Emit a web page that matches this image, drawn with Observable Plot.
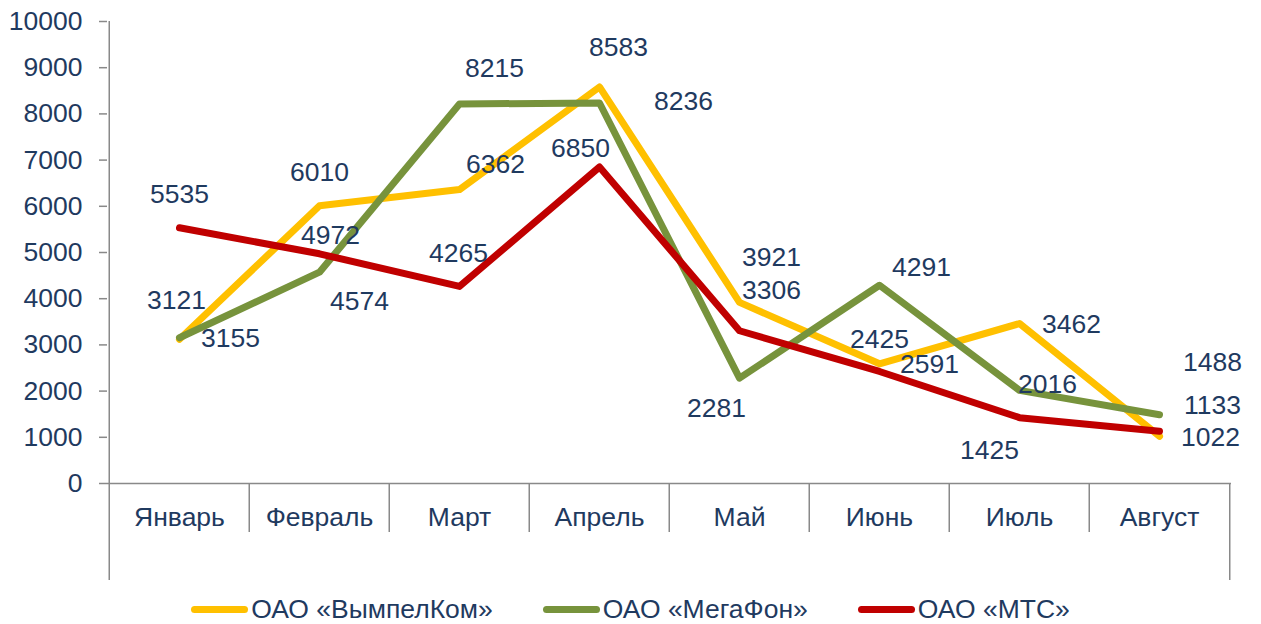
<!DOCTYPE html>
<html>
<head>
<meta charset="utf-8">
<script src="https://cdn.jsdelivr.net/npm/d3@7"></script>
<script src="https://cdn.jsdelivr.net/npm/@observablehq/plot@0.6"></script>
<style>
  html, body { margin: 0; padding: 0; background: #fff; }
  body { width: 1261px; height: 624px; overflow: hidden; font-family: "Liberation Sans", Arial, sans-serif; }
  #legend { display: flex; justify-content: center; align-items: center; height: 42px; font-size: 26.5px; color: #1f3a5f; }
  .item { display: flex; align-items: center; margin: 0 25px; }
  .sw { width: 57px; height: 7px; border-radius: 4px; margin-right: 3px; }
</style>
</head>
<body>
<div id="chart"></div>
<div id="legend"></div>
<script>
// ---- data ----
const months = ["Январь", "Февраль", "Март", "Апрель", "Май", "Июнь", "Июль", "Август"];
const seriesNames = ["ОАО «ВымпелКом»", "ОАО «МегаФон»", "ОАО «МТС»"];
const beeline = [3121, 6010, 6362, 8583, 3921, 2591, 3462, 1022];
const megafon = [3155, 4574, 8215, 8236, 2281, 4291, 2016, 1488];
const mts     = [5535, 4972, 4265, 6850, 3306, 2425, 1425, 1133];
const yTicks = [0, 1000, 2000, 3000, 4000, 5000, 6000, 7000, 8000, 9000, 10000];

// ---- label offsets (px), kept apart from the values ----
const beelineDx = [-3, 0, 36, 19, 32, 50, 52, 51];
const beelineDy = [-39, -33, -25, -39, -45, 1, 1, 1];
const megafonDx = [51, 40, 35, 84, -23, 42, 28, 53];
const megafonDy = [1, 29, -35, -1, 30, -18, -6, -52];
const mtsDx = [0, 11, -1, -19, 32, 0, -30, 53];
const mtsDy = [-33, -18, -33, -19, -40, -32, 33, -26];

const colors = ["#FFC000", "#77933C", "#C00000"];
const textColor = "#1f3a5f";
const axisColor = "#898989";

const W = 1261, H = 588;
const mL = 107, mR = 30, mT = 21, mB = 105;
const step = (W - mL - mR) / months.length;

const values = [beeline, megafon, mts];
const dxs = [beelineDx, megafonDx, mtsDx];
const dys = [beelineDy, megafonDy, mtsDy];

const rows = [];
values.forEach((vals, s) => vals.forEach((v, i) => rows.push({series: seriesNames[s], month: months[i], value: v, dx: dxs[s][i], dy: dys[s][i]})));

const labelMarks = rows.map(d => Plot.text([d], {
  x: "month", y: "value", text: d => String(d.value),
  dx: d.dx, dy: d.dy, fill: textColor, fontSize: 26.5
}));

const innerBounds = months.slice(1);
const chart = Plot.plot({
  width: W, height: H,
  marginLeft: mL, marginRight: mR, marginTop: mT, marginBottom: mB,
  style: {fontFamily: '"Liberation Sans", Arial, sans-serif', fontSize: "26.5px", background: "#fff", overflow: "visible"},
  x: {type: "point", domain: months, padding: 0.5, align: 0.5, axis: null},
  y: {domain: [0, 10000], axis: null},
  color: {domain: seriesNames, range: colors},
  marks: [
    // y axis ticks + labels
    Plot.axisY(yTicks, {tickSize: 8, tickPadding: 17, tickFormat: d => String(d), stroke: axisColor, fill: textColor, strokeWidth: 1.5, fontSize: 26.5, label: null}),
    // baseline
    Plot.ruleY([0], {stroke: axisColor, strokeWidth: 1.5}),
    // y axis line (extended below as outer boundary)
    Plot.ruleX([months[0]], {dx: -step / 2, y1: -2100, y2: 10000, stroke: axisColor, strokeWidth: 1.5}),
    // right outer boundary
    Plot.ruleX([months[months.length - 1]], {dx: step / 2, y1: -2100, y2: 0, stroke: axisColor, strokeWidth: 1.5}),
    // inner category separators
    Plot.ruleX(innerBounds, {dx: -step / 2, y1: -1060, y2: 0, stroke: axisColor, strokeWidth: 1.5}),
    // x axis labels
    Plot.axisX(months, {tickSize: 0, tickPadding: 24, fill: textColor, fontSize: 26.5, label: null}),
    // lines
    Plot.line(rows, {x: "month", y: "value", z: "series", stroke: "series", strokeWidth: 7, strokeLinecap: "round", strokeLinejoin: "round"}),
    ...labelMarks
  ]
});
document.getElementById("chart").appendChild(chart);

const legend = document.getElementById("legend");
seriesNames.forEach((n, i) => {
  const it = document.createElement("div");
  it.className = "item";
  const sw = document.createElement("div");
  sw.className = "sw";
  sw.style.background = colors[i];
  const t = document.createElement("span");
  t.textContent = n;
  it.appendChild(sw); it.appendChild(t);
  legend.appendChild(it);
});
</script>
</body>
</html>
